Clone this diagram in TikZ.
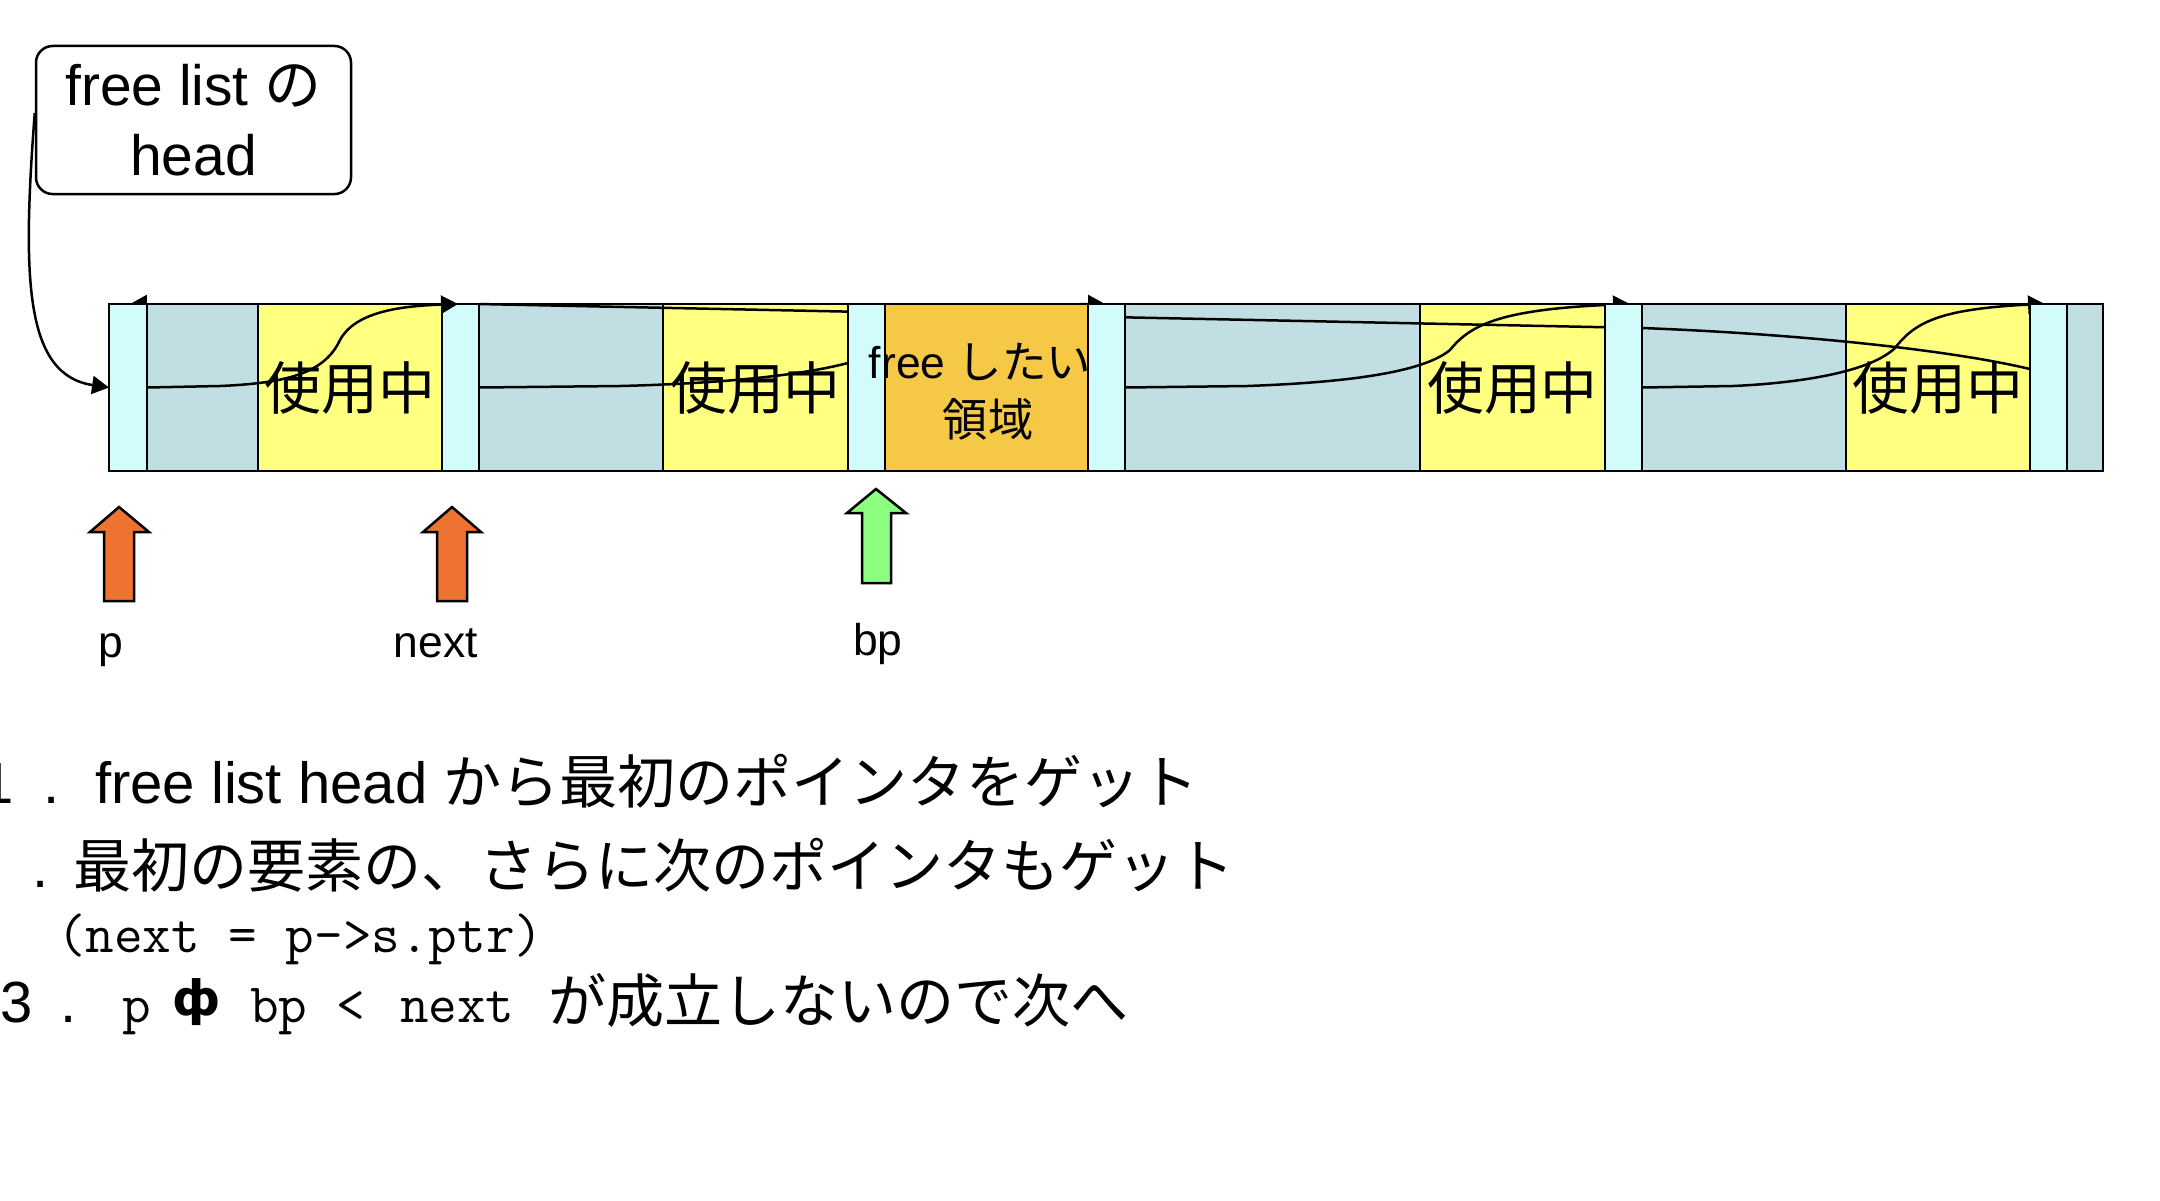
\documentclass[tikz,border=0pt]{standalone}
\usepackage{fontspec}
\setmainfont{Liberation Sans}
\newfontfamily\jp{Noto Sans CJK JP}
\newfontfamily\dvs{DejaVu Sans}
\usetikzlibrary{arrows.meta,calc}
\definecolor{hcyan}{HTML}{D2FCFC}
\definecolor{bgray}{HTML}{C1DFE2}
\definecolor{uyel}{HTML}{FFFF80}
\definecolor{forg}{HTML}{F5C946}
\definecolor{aorg}{HTML}{EE7230}
\definecolor{agrn}{HTML}{8CFF80}
\pgfdeclarelayer{blocks}
\pgfdeclarelayer{lines}
\pgfdeclarelayer{top}
\pgfsetlayers{blocks,lines,main,top}
\newcommand\blk[5]{\node[blk,fill=#5,minimum width={(#3-#2)*0.36pt}] (#1) at ({(#2+#3)/2},387.5) {#4};}
\begin{document}
\begin{tikzpicture}[x=0.36pt,y=-0.36pt,
  blk/.style={draw=black,line width=1pt,inner sep=0pt,outer sep=0pt,minimum height=60.12pt,
    font={\fontsize{20.5pt}{24pt}\selectfont\jp}},
  ptr/.style={draw=black,line width=0.9pt},
  arr/.style={-{Triangle[length=6.1pt,width=6.5pt]}},
  barrow/.style={draw=black,line width=0.9pt,line join=miter},
  lbl/.style={inner sep=0pt,outer sep=0pt,font={\fontsize{16pt}{19pt}\selectfont}},
  bt/.style={inner sep=0pt,outer sep=0pt,font={\fontsize{20.9pt}{25pt}\selectfont}},
  mono/.style={inner sep=0pt,outer sep=0pt,font={\fontsize{20pt}{24pt}\selectfont\ttfamily}}]
\useasboundingbox (0,0) rectangle (2160,1200);

% callout
\node[draw=black,line width=0.9pt,rounded corners=6pt,minimum width=113.4pt,minimum height=53.3pt,
  inner sep=0pt,align=center,font={\fontsize{20.5pt}{25.2pt}\selectfont}] (callout) at (193.5,120)
  {free list {\jp の}\\head};

% memory band: plain blocks
\begin{pgfonlayer}{blocks}
\blk{g1}{147}{258}{}{bgray}
\blk{y1}{258}{442}{使用中}{uyel}
\blk{g2}{479}{663}{}{bgray}
\blk{y2}{663}{848}{使用中}{uyel}
\blk{g3}{1125}{1420}{}{bgray}
\blk{y3}{1420}{1605}{使用中}{uyel}
\blk{g4}{1642}{1846}{}{bgray}
\blk{y4}{1846}{2030}{使用中}{uyel}
\blk{g5}{2067}{2103}{}{bgray}
\end{pgfonlayer}

% headers, block to free and its text
\blk{h1}{109}{147}{}{hcyan}
\blk{h2}{442}{479}{}{hcyan}
\blk{h3}{848}{885}{}{hcyan}
\blk{org}{885}{1088}{}{forg}
\node[inner sep=0pt,font={\fontsize{16pt}{19pt}\selectfont}] (ft1) at (980,362) {free {\jp したい}};
\node[inner sep=0pt,font={\fontsize{16.3pt}{19pt}\selectfont\jp}] (ft2) at (988,419) {領域};
\blk{h4}{1088}{1125}{}{hcyan}
\blk{h5}{1605}{1642}{}{hcyan}
\blk{h6}{2030}{2067}{}{hcyan}

% pointer lines partly hidden by headers / free block
\begin{pgfonlayer}{lines}
\draw[ptr] (h2.north east) -- (1642,328) .. controls (1800,334) and (1950,350) .. ($(h6.west)+(0,-18.5)$);
\draw[ptr] (h2.east) -- (620,386) .. controls (700,384) and (790,378) .. ($(h3.west)+(0,-24.5)$);
\draw[ptr,arr] (h3.east) .. controls (1000,387) and (1000,304) .. ($(h4.north west)+(17,0)$);
\draw[ptr,arr] (h4.east) -- (1247,386) .. controls (1330,383) and (1420,375) .. (1450,350)
  .. controls (1470,325) and (1500,310) .. (1605,305) -- ($(h5.north west)+(25,0)$);
\draw[ptr,arr] (h5.east) -- (1733,386) .. controls (1800,383) and (1870,372) .. (1895,348)
  .. controls (1915,322) and (1940,310) .. (2020,305) -- ($(h6.north west)+(15,0)$);
\draw[ptr,arr] (h2.north west) -- ($(h1.north east)+(-17,0)$);
\end{pgfonlayer}

% fully visible pointers
\begin{pgfonlayer}{top}
\draw[ptr,arr] (h1.east) -- (220,386) .. controls (290,383) and (325,372) .. (340,340)
  .. controls (355,312) and (400,306) .. ($(h2.north west)+(16,0)$);
\draw[ptr,arr] ($(callout.west)+(0,-7)$) .. controls (22,280) and (25,375) .. (h1.west);
\end{pgfonlayer}

% block arrows
\draw[barrow,fill=aorg] (119,507) -- (149,532) -- (134,532) -- (134,601) -- (104,601) -- (104,532) -- (90,532) -- cycle;
\draw[barrow,fill=aorg] (452,507) -- (481,532) -- (467,532) -- (467,601) -- (437,601) -- (437,532) -- (423,532) -- cycle;
\draw[barrow,fill=agrn] (876,489) -- (906,513) -- (891,513) -- (891,583) -- (862,583) -- (862,513) -- (847,513) -- cycle;
\node[lbl,anchor=base] (lp) at (111,657) {p};
\node[lbl,anchor=base] (lnext) at (436,657) {next};
\node[lbl,anchor=base] (lbp) at (878,655) {bp};

% explanation lines
\node[bt,anchor=base west] (n1a) at (-18,803) {1};
\node[bt,anchor=base] (n1b) at (52,803) {.};
\node[bt,anchor=base west] (n1c) at (95,803) {free list head {\jp から最初のポインタをゲット}};
\node[bt,anchor=base] (n2a) at (41,887) {.};
\node[bt,anchor=base west] (n2b) at (73,887) {\jp 最初の要素の、さらに次のポインタもゲット};
\node[mono,anchor=base west] (n3) at (57,952) {(next = p->s.ptr)};
\node[bt,anchor=base west] (n4a) at (0,1022) {3};
\node[bt,anchor=base] (n4b) at (69,1022) {.};
\node[mono,anchor=base west] (n4c) at (122,1022) {p};
\node[inner sep=0pt,font={\fontsize{17.5pt}{20pt}\selectfont\dvs\bfseries}] (n4d) at (197,1002) {ф};
\node[mono,anchor=base west] (n4e) at (250,1022) {bp};
\node[mono,anchor=base west] (n4f) at (336,1022) {<};
\node[mono,anchor=base west] (n4g) at (400,1022) {next};
\node[bt,anchor=base west] (n4h) at (548,1022) {\jp が成立しないので次へ};
\end{tikzpicture}
\end{document}
